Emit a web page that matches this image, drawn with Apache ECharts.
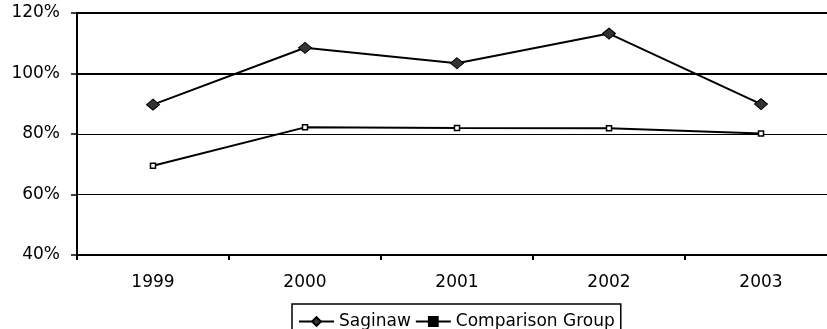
<!DOCTYPE html>
<html>
<head>
<meta charset="utf-8">
<script src="https://cdn.jsdelivr.net/npm/echarts@6/dist/echarts.min.js"></script>
<style>html,body{margin:0;padding:0;background:#fff;overflow:hidden;width:827px;height:329px;}#c{width:837px;height:329px;}</style>
</head>
<body>
<div id="c"></div>
<script>
const categories = ['1999', '2000', '2001', '2002', '2003'];
const saginaw = [89.7, 108.5, 103.4, 113.2, 89.9];
const comparison = [69.5, 82.2, 82.0, 81.9, 80.2];
const yMin = 40, yMax = 120, yStep = 20;
const heavyLines = [100, 120];
const seriesNames = ['Saginaw', 'Comparison Group'];

const FONT = 'DejaVu Sans';
const chart = echarts.init(document.getElementById('c'), null, {renderer: 'canvas'});
chart.setOption({
  animation: false,
  backgroundColor: '#fff',
  textStyle: {fontFamily: FONT},
  grid: {left: 77, top: 13, width: 760, height: 242, containLabel: false},
  legend: {
    left: 292, top: 304,
    padding: [9, 6, 6, 6],
    itemGap: 4,
    itemWidth: 35, itemHeight: 11,
    borderColor: '#000', borderWidth: 1.5,
    textStyle: {fontFamily: FONT, fontSize: 17, color: '#000'},
    data: [
      {name: seriesNames[0]},
      {name: seriesNames[1], itemStyle: {color: '#000', borderColor: '#000'}}
    ]
  },
  xAxis: {
    type: 'category', data: categories, boundaryGap: true,
    axisLine: {lineStyle: {color: '#000', width: 2}},
    axisTick: {show: true, length: 5, lineStyle: {color: '#000', width: 2}},
    axisLabel: {color: '#000', fontFamily: FONT, fontSize: 17, margin: 19},
    splitLine: {show: false}
  },
  yAxis: {
    type: 'value', min: yMin, max: yMax, interval: yStep,
    axisLine: {show: true, lineStyle: {color: '#000', width: 2}},
    axisTick: {show: true, length: 6, lineStyle: {color: '#000', width: 1.5}},
    axisLabel: {color: '#000', fontFamily: FONT, fontSize: 17, margin: 17, formatter: v => v + '%'},
    splitLine: {show: true, lineStyle: {color: '#000', width: 1}}
  },
  series: [
    {
      name: seriesNames[0], type: 'line', data: saginaw,
      symbol: 'diamond', symbolSize: [13, 11], showAllSymbol: true,
      lineStyle: {color: '#000', width: 2},
      itemStyle: {color: '#333', borderColor: '#000', borderWidth: 1},
      z: 5,
      markLine: {
        silent: true, symbol: 'none', label: {show: false},
        lineStyle: {color: '#000', width: 2, type: 'solid'},
        data: heavyLines.map(v => ({yAxis: v}))
      }
    },
    {
      name: seriesNames[1], type: 'line', data: comparison,
      symbol: 'rect', symbolSize: 5, showAllSymbol: true,
      lineStyle: {color: '#000', width: 2},
      itemStyle: {color: '#fff', borderColor: '#000', borderWidth: 1.5},
      z: 4
    }
  ]
});
</script>
</body>
</html>
